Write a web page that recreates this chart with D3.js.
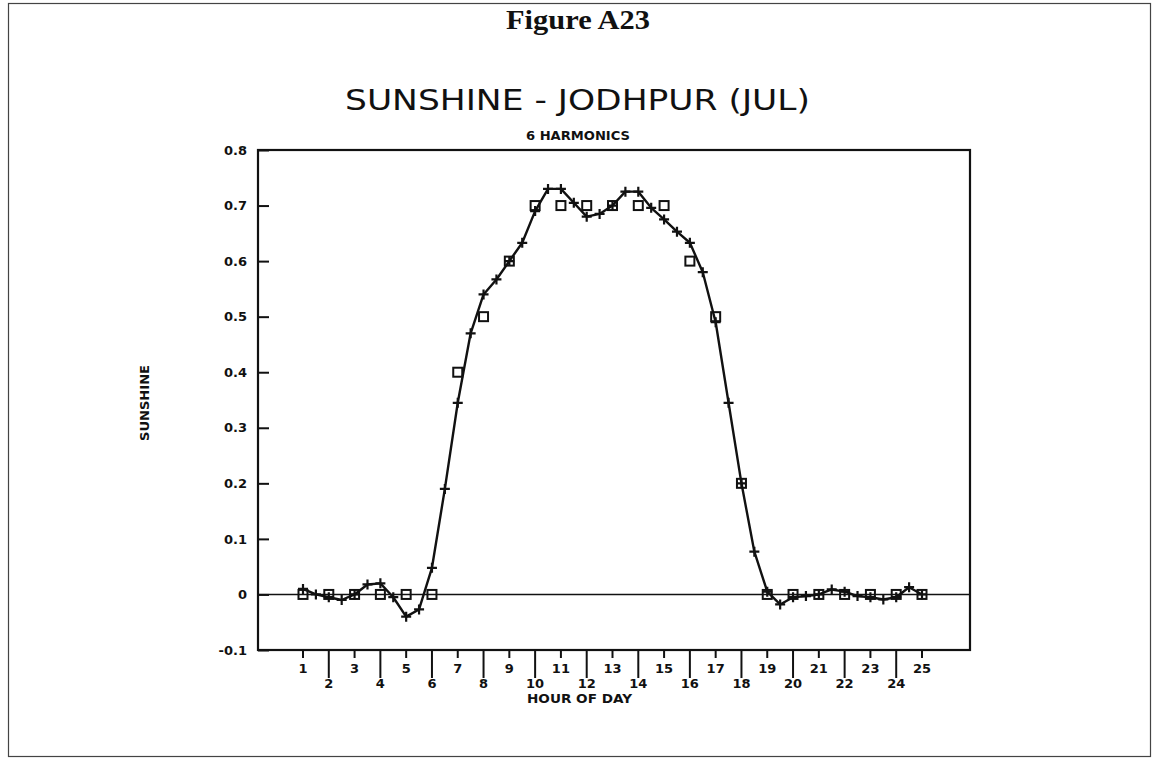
<!DOCTYPE html>
<html>
<head>
<meta charset="utf-8">
<script src="https://cdn.jsdelivr.net/npm/d3@7"></script>
<style>
  html, body { margin: 0; padding: 0; background: #fff; }
  svg { display: block; }
</style>
</head>
<body>
<svg id="chart" width="1153" height="762"></svg>
<script>
// Observed hourly sunshine fraction
const obsHours = [1, 2, 3, 4, 5, 6, 7, 8, 9, 10, 11, 12, 13, 14, 15, 16, 17, 18, 19, 20, 21, 22, 23, 24, 25];
const obsValues = [0, 0, 0, 0, 0, 0, 0.4, 0.5, 0.6, 0.7, 0.7, 0.7, 0.7, 0.7, 0.7, 0.6, 0.5, 0.2, 0, 0, 0, 0, 0, 0, 0];

// Six-harmonic fit evaluated every half hour
const fitHours = [1, 1.5, 2, 2.5, 3, 3.5, 4, 4.5, 5, 5.5, 6, 6.5, 7, 7.5, 8, 8.5, 9, 9.5, 10, 10.5,
  11, 11.5, 12, 12.5, 13, 13.5, 14, 14.5, 15, 15.5, 16, 16.5, 17, 17.5, 18, 18.5, 19, 19.5, 20, 20.5,
  21, 21.5, 22, 22.5, 23, 23.5, 24, 24.5, 25];
const fitValues = [0.01, 0.0, -0.005, -0.01, 0.0, 0.018, 0.02, -0.005, -0.04, -0.027, 0.048, 0.19,
  0.345, 0.47, 0.54, 0.567, 0.60, 0.633, 0.69, 0.73, 0.73, 0.705, 0.68, 0.685, 0.70, 0.725, 0.725,
  0.696, 0.675, 0.653, 0.633, 0.58, 0.49, 0.345, 0.20, 0.077, 0.005, -0.018, -0.005, -0.003, 0.0,
  0.009, 0.005, -0.003, -0.005, -0.009, -0.005, 0.013, 0.0];

// Axis ticks
const yTicks = [0.8, 0.7, 0.6, 0.5, 0.4, 0.3, 0.2, 0.1, 0, -0.1];
const yTickLabels = ["0.8", "0.7", "0.6", "0.5", "0.4", "0.3", "0.2", "0.1", "0", "-0.1"];
const xTicks = [1, 2, 3, 4, 5, 6, 7, 8, 9, 10, 11, 12, 13, 14, 15, 16, 17, 18, 19, 20, 21, 22, 23, 24, 25];

const svg = d3.select("#chart");
const frame = { left: 258, right: 970, top: 150, bottom: 650 };

const x = d3.scaleLinear().domain([1, 25]).range([303, 922]);
const y = d3.scaleLinear().domain([-0.1, 0.8]).range([frame.bottom, frame.top]);

const ink = "#111";
const blockFont = "'DejaVu Sans', Arial, sans-serif";

// page border
svg.append("rect")
  .attr("x", 8.5).attr("y", 3.5).attr("width", 1142).attr("height", 753)
  .attr("fill", "none").attr("stroke", "#444").attr("stroke-width", 1.2);

// headings
svg.append("text")
  .attr("x", 506).attr("y", 29)
  .attr("font-family", "'Liberation Serif', 'Times New Roman', serif")
  .attr("font-weight", "bold").attr("font-size", 27)
  .attr("textLength", 144).attr("lengthAdjust", "spacingAndGlyphs")
  .attr("fill", ink)
  .text("Figure A23");

svg.append("text")
  .attr("x", 345).attr("y", 110)
  .attr("font-family", blockFont)
  .attr("font-weight", "normal").attr("font-size", 29)
  .attr("textLength", 465).attr("lengthAdjust", "spacingAndGlyphs")
  .attr("fill", ink)
  .text("SUNSHINE - JODHPUR (JUL)");

svg.append("text")
  .attr("x", 526).attr("y", 140)
  .attr("font-family", blockFont)
  .attr("font-weight", "bold").attr("font-size", 12)
  .attr("textLength", 104).attr("lengthAdjust", "spacingAndGlyphs")
  .attr("fill", ink)
  .text("6 HARMONICS");

// plot frame
svg.append("rect")
  .attr("x", frame.left).attr("y", frame.top)
  .attr("width", frame.right - frame.left).attr("height", frame.bottom - frame.top)
  .attr("fill", "none").attr("stroke", ink).attr("stroke-width", 2.2);

// y axis (ticks point into the plot)
const yAxis = d3.axisLeft(y)
  .tickValues(yTicks)
  .tickFormat((d, i) => yTickLabels[i])
  .tickSizeInner(-11).tickSizeOuter(0).tickPadding(11);

const yg = svg.append("g").attr("transform", `translate(${frame.left},0)`).call(yAxis);
yg.select(".domain").remove();
yg.selectAll(".tick line").attr("stroke", ink).attr("stroke-width", 2);
yg.selectAll(".tick text")
  .attr("font-family", blockFont).attr("font-weight", "bold").attr("font-size", 13)
  .attr("fill", ink);

// y axis title
svg.append("text")
  .attr("transform", "translate(149,403) rotate(-90)")
  .attr("text-anchor", "middle")
  .attr("font-family", blockFont).attr("font-weight", "bold").attr("font-size", 13)
  .attr("textLength", 76).attr("lengthAdjust", "spacingAndGlyphs")
  .attr("fill", ink)
  .text("SUNSHINE");

// x axis: odd hours short ticks with labels above, even hours long ticks with labels below
const xg = svg.append("g");
xg.selectAll("line.xt")
  .data(xTicks)
  .join("line")
  .attr("class", "xt")
  .attr("x1", d => x(d)).attr("x2", d => x(d))
  .attr("y1", frame.bottom)
  .attr("y2", d => frame.bottom + (d % 2 === 0 ? 28 : 8))
  .attr("stroke", ink).attr("stroke-width", 2);

xg.selectAll("text.xl")
  .data(xTicks)
  .join("text")
  .attr("class", "xl")
  .attr("x", d => x(d))
  .attr("y", d => d % 2 === 0 ? frame.bottom + 38 : frame.bottom + 23)
  .attr("text-anchor", "middle")
  .attr("font-family", blockFont).attr("font-weight", "bold").attr("font-size", 13)
  .attr("fill", ink)
  .text(d => d);

svg.append("text")
  .attr("x", 527).attr("y", 703)
  .attr("font-family", blockFont).attr("font-weight", "bold").attr("font-size", 12)
  .attr("textLength", 105).attr("lengthAdjust", "spacingAndGlyphs")
  .attr("fill", ink)
  .text("HOUR OF DAY");

// zero reference line
svg.append("line")
  .attr("x1", frame.left).attr("x2", frame.right)
  .attr("y1", y(0)).attr("y2", y(0))
  .attr("stroke", ink).attr("stroke-width", 1.6);

// fitted curve
const fitData = fitHours.map((h, i) => ({ h, v: fitValues[i] }));
const line = d3.line().x(d => x(d.h)).y(d => y(d.v));
svg.append("path")
  .datum(fitData)
  .attr("d", line)
  .attr("fill", "none").attr("stroke", ink).attr("stroke-width", 2.4)
  .attr("stroke-linejoin", "round");

// plus markers on the fit
svg.append("g").selectAll("path")
  .data(fitData)
  .join("path")
  .attr("d", d => {
    const cx = x(d.h), cy = y(d.v);
    return `M${cx - 5},${cy}H${cx + 5}M${cx},${cy - 5}V${cy + 5}`;
  })
  .attr("stroke", ink).attr("stroke-width", 2.2).attr("fill", "none");

// observed squares
const obsData = obsHours.map((h, i) => ({ h, v: obsValues[i] }));
svg.append("g").selectAll("rect")
  .data(obsData)
  .join("rect")
  .attr("x", d => x(d.h) - 4.5).attr("y", d => y(d.v) - 4.5)
  .attr("width", 9).attr("height", 9)
  .attr("fill", "none").attr("stroke", ink).attr("stroke-width", 2);
</script>
</body>
</html>
